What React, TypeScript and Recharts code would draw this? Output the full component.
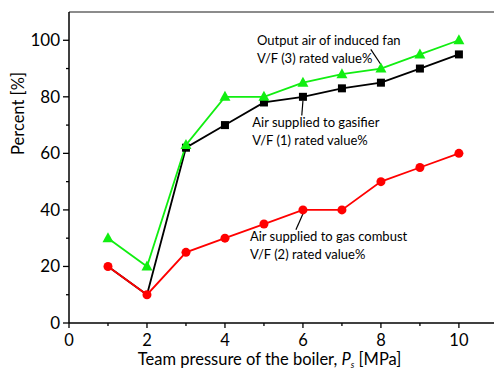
import {
  LineChart,
  Line,
  XAxis,
  YAxis,
  ReferenceLine,
  ReferenceDot,
} from 'recharts';

const PRESSURE = [1, 2, 3, 4, 5, 6, 7, 8, 9, 10];
const GASIFIER = [20, 10, 62, 70, 78, 80, 83, 85, 90, 95];
const COMBUST = [20, 10, 25, 30, 35, 40, 40, 50, 55, 60];
const FAN = [30, 20, 63, 80, 80, 85, 88, 90, 95, 100];

const X_TICKS = [0, 1, 2, 3, 4, 5, 6, 7, 8, 9, 10];
const Y_TICKS = [0, 10, 20, 30, 40, 50, 60, 70, 80, 90, 100];

// text notes: [x, y, line1, line2], leader lines: [x1, y1, x2, y2]
const NOTES: Array<[number, number, string, string]> = [
  [4.82, 98.5, 'Output air of induced fan', 'V/F (3) rated value%'],
  [4.7, 69.5, 'Air supplied to gasifier', 'V/F (1) rated value%'],
  [4.64, 29.1, 'Air supplied to gas combust', 'V/F (2) rated value%'],
];
const LEADERS: Array<[number, number, number, number]> = [
  [7.74, 96.8, 7.99, 91.6],
  [6.0, 78.6, 5.97, 73.4],
  [6.0, 38.6, 5.82, 33.0],
];

const data = PRESSURE.map((p, i) => ({
  p,
  gasifier: GASIFIER[i],
  combust: COMBUST[i],
  fan: FAN[i],
}));

const FONT = 'Lato, "Noto Sans", sans-serif';

const XTick = ({ x, y, payload }: any) => {
  const major = payload.value % 2 === 0;
  return (
    <g>
      <line x1={x} x2={x} y1={y} y2={y + (major ? 5 : 3)} stroke="#000" strokeWidth={1.3} />
      {major && (
        <text x={x} y={y + 17} dy="0.35em" textAnchor="middle" fontSize={16.5} fill="#000" fontFamily={FONT}>
          {payload.value}
        </text>
      )}
    </g>
  );
};

const YTick = ({ x, y, payload }: any) => {
  const major = payload.value % 20 === 0;
  return (
    <g>
      <line x1={x} x2={x - (major ? 6 : 3)} y1={y} y2={y} stroke="#000" strokeWidth={1.3} />
      {major && (
        <text x={x - 9} y={y} dy="0.35em" textAnchor="end" fontSize={17} fill="#000" fontFamily={FONT}>
          {payload.value}
        </text>
      )}
    </g>
  );
};

const Square = ({ cx, cy, index }: any) => {
  if (index < 2) return <g key={index} />;
  return <rect key={index} x={cx - 4} y={cy - 4} width={8} height={8} fill="#000" />;
};

const Triangle = ({ cx, cy, index }: any) => (
  <path key={index} d={`M${cx},${cy - 6} L${cx + 5.5},${cy + 4} L${cx - 5.5},${cy + 4} Z`} fill="#11ee11" />
);

export default function App() {
  return (
    <div style={{ position: 'absolute', left: 0, top: 0, width: 494, height: 376, overflow: 'hidden', background: '#fff' }}>
      <LineChart width={494} height={376} data={data} margin={{ top: 12, right: 0, left: 0, bottom: 0 }}>
        <XAxis
          dataKey="p"
          type="number"
          domain={[0, 10.9]}
          ticks={X_TICKS}
          allowDataOverflow
          height={53}
          tickSize={0}
          tickMargin={0}
          tickLine={false}
          tick={<XTick />}
          axisLine={{ stroke: '#000', strokeWidth: 1.5 }}
          label={(props: any) => {
            const vb = props.viewBox;
            return (
              <text x={vb.x + vb.width * 0.472} y={365} textAnchor="middle" fontSize={16.5} fill="#000" fontFamily={FONT}>
                Team pressure of the boiler, <tspan fontStyle="italic">P</tspan>
                <tspan fontSize={9} dy={3} fontStyle="italic">s</tspan>
                <tspan dy={-3}> [MPa]</tspan>
              </text>
            );
          }}
        />
        <YAxis
          type="number"
          domain={[0, 110]}
          ticks={Y_TICKS}
          width={69}
          tickSize={0}
          tickMargin={0}
          tickLine={false}
          tick={<YTick />}
          axisLine={{ stroke: '#000', strokeWidth: 1.5 }}
          label={() => (
            <text
              x={24}
              y={113.5}
              transform="rotate(-90 24 113.5)"
              textAnchor="middle"
              fontSize={16.5}
              fill="#000"
              fontFamily={FONT}
            >
              Percent [%]
            </text>
          )}
        />
        <ReferenceLine y={110} stroke="#666" strokeWidth={1.3} />
        {LEADERS.map(([x1, y1, x2, y2], i) => (
          <ReferenceLine
            key={i}
            segment={[{ x: x1, y: y1 }, { x: x2, y: y2 }]}
            stroke="#000"
            strokeWidth={1.2}
          />
        ))}
        {NOTES.map(([x, y, l1, l2], i) => (
          <ReferenceDot
            key={i}
            x={x}
            y={y}
            r={0}
            shape={(p: any) => (
              <text x={p.cx} y={p.cy} fontSize={13} fill="#000" fontFamily={FONT}>
                <tspan x={p.cx}>{l1}</tspan>
                <tspan x={p.cx} dy={18.5}>{l2}</tspan>
              </text>
            )}
          />
        ))}
        <Line
          dataKey="gasifier"
          stroke="#000"
          strokeWidth={1.8}
          dot={<Square />}
          activeDot={false}
          isAnimationActive={false}
        />
        <Line
          dataKey="fan"
          stroke="#11ee11"
          strokeWidth={1.8}
          dot={<Triangle />}
          activeDot={false}
          isAnimationActive={false}
        />
        <Line
          dataKey="combust"
          stroke="#ff0000"
          strokeWidth={1.8}
          dot={{ r: 4.5, fill: '#ff0000', stroke: 'none' }}
          activeDot={false}
          isAnimationActive={false}
        />
      </LineChart>
    </div>
  );
}
